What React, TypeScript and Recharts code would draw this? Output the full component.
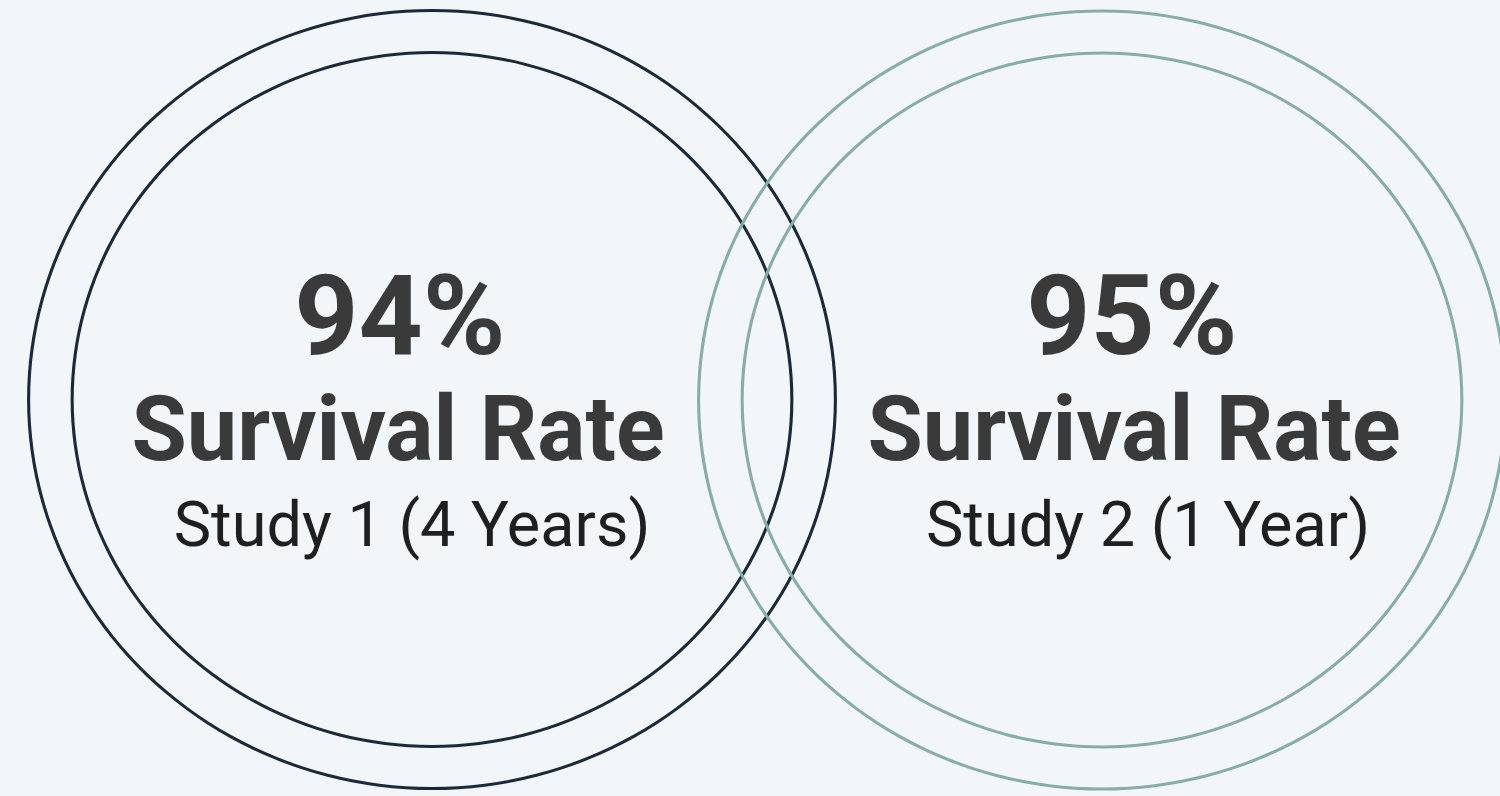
import React from 'react'
import { PieChart, Pie, Cell } from 'recharts'

const studies = ['Study 1 (4 Years)', 'Study 2 (1 Year)']
const rates = [94, 95]
const ringColors = ['#1b2a3a', '#86ada9']

const W = 1500
const H = 796
// the rings in the picture are a little wider than tall
const SX = 1.037

const centers = [
  { x: 432, y: 399.5 },
  { x: 1102, y: 400 },
]
const OUTER_R = 389
const INNER_R = 347
const RING = 3

const textPos = [
  { pct: 400, title: 398, sub: 412 },
  { pct: 1132, title: 1134, sub: 1148 },
]

export default function App() {
  const rings: any[] = []
  studies.forEach((s, i) => {
    ;[OUTER_R, INNER_R].forEach((r, j) => {
      rings.push(
        <Pie
          key={`${i}-${j}`}
          data={[{ name: s, value: rates[i] }]}
          dataKey="value"
          cx={centers[i].x / SX}
          cy={centers[i].y}
          innerRadius={r - RING / 2}
          outerRadius={r + RING / 2}
          startAngle={90}
          endAngle={-270}
          stroke="none"
          isAnimationActive={false}
        >
          <Cell fill={ringColors[i]} />
        </Pie>
      )
    })
  })

  return (
    <div
      style={{
        position: 'fixed',
        left: 0,
        top: 0,
        width: W,
        height: H,
        overflow: 'hidden',
        background: '#f2f6f9',
      }}
    >
      <div style={{ position: 'absolute', left: 0, top: 0, transform: `scaleX(${SX})`, transformOrigin: '0 0' }}>
        <PieChart width={Math.ceil(W / SX) + 20} height={H} margin={{ top: 0, right: 0, bottom: 0, left: 0 }}>
          {rings}
        </PieChart>
      </div>
      <svg width={W} height={H} style={{ position: 'absolute', left: 0, top: 0 }}>
        {studies.map((s, i) => (
          <g key={s} fontFamily="Roboto, sans-serif" textAnchor="middle">
            <text x={textPos[i].pct} y={354} fontSize={112} fontWeight={700} fill="#3a3a3a">
              {rates[i]}%
            </text>
            <text x={textPos[i].title} y={460} fontSize={90} fontWeight={700} fill="#3a3a3a">
              Survival Rate
            </text>
            <text x={textPos[i].sub} y={546} fontSize={63} fontWeight={400} fill="#1f1f1f">
              {s}
            </text>
          </g>
        ))}
      </svg>
    </div>
  )
}
